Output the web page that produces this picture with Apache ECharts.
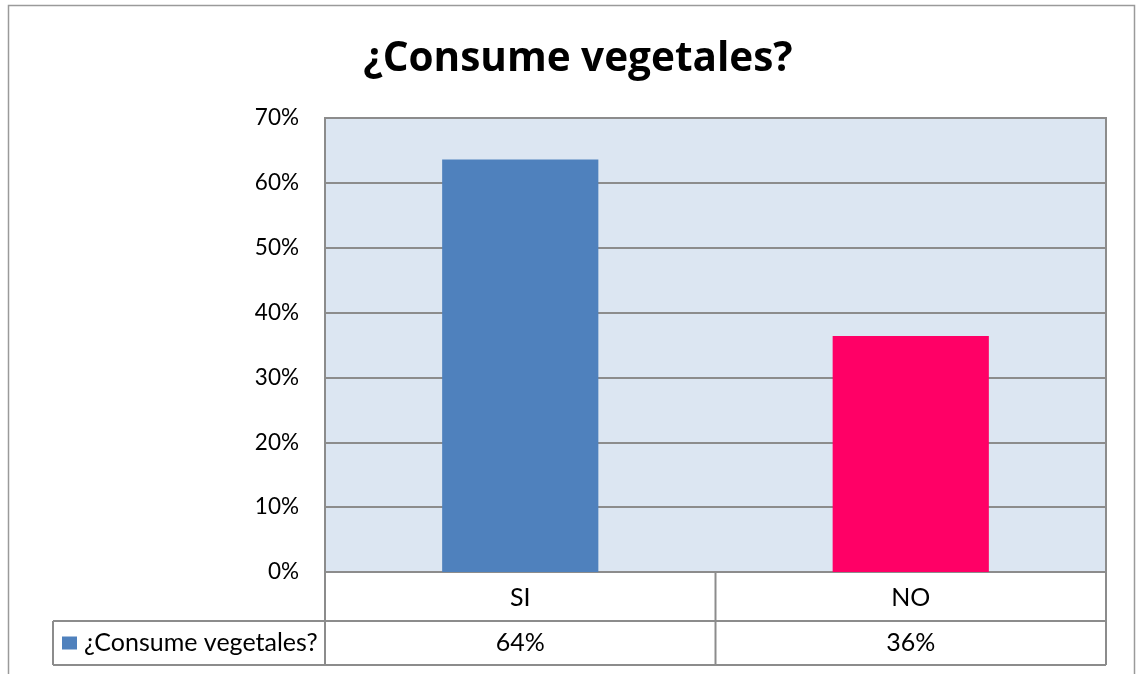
<!DOCTYPE html>
<html>
<head>
<meta charset="utf-8">
<script src="https://cdn.jsdelivr.net/npm/echarts@6/dist/echarts.min.js"></script>
<style>
  html, body { margin: 0; padding: 0; background: #fff; }
  #chart { width: 1136px; height: 674px; }
</style>
</head>
<body>
<div id="chart"></div>
<script>
// Survey answers and their shares
const categories = ['SI', 'NO'];
const shares = [0.636, 0.364];
const seriesName = '¿Consume vegetales?';
const barColors = ['#4f81bd', '#ff0066'];
const yTicks = [0, 0.1, 0.2, 0.3, 0.4, 0.5, 0.6, 0.7];

const FONT = 'Lato, "Open Sans", sans-serif';
const LINE = '#8c8c8c';

// plot area box
const G = { left: 325, top: 118, width: 781, height: 454 };
const ROW1 = 49, ROW2 = 44;     // data table row heights
const LEGEND_LEFT = 53;

const chart = echarts.init(document.getElementById('chart'));

const pct = v => Math.round(v * 100) + '%';

chart.setOption({
  animation: false,
  title: {
    text: seriesName,
    left: 573, top: 34, textAlign: 'center',
    textStyle: { fontFamily: '"Open Sans", Lato, sans-serif', fontSize: 40.5, fontWeight: 'bold', color: '#000' }
  },
  grid: { left: G.left, top: G.top, width: G.width, height: G.height,
          show: true, backgroundColor: '#dce6f2', borderColor: LINE, borderWidth: 2 },
  xAxis: {
    type: 'category', data: categories,
    axisLine: { show: true, lineStyle: { color: LINE, width: 2 } },
    axisTick: { show: false }, axisLabel: { show: false }
  },
  yAxis: {
    type: 'value', min: yTicks[0], max: yTicks[yTicks.length - 1], interval: 0.1,
    axisLine: { show: true, lineStyle: { color: LINE, width: 2 } },
    axisTick: { show: false },
    axisLabel: { formatter: pct, fontFamily: FONT, fontSize: 22.5, color: '#000', margin: 26 },
    splitLine: { lineStyle: { color: LINE, width: 2 } }
  },
  series: [{
    type: 'bar', name: seriesName,
    data: shares.map((v, i) => ({ value: v, itemStyle: { color: barColors[i] } })),
    barWidth: '40%'
  }]
});

// Data table under the plot: category row, then legend key + values row
const y0 = G.top + G.height;
const y1 = y0 + ROW1;
const y2 = y1 + ROW2;
const xR = G.left + G.width;
const colW = G.width / categories.length;
const TFONT = '25px ' + FONT;
const els = [];
const line = (x1, ya, x2, yb) => ({ type: 'line', shape: { x1, y1: ya, x2, y2: yb },
  style: { stroke: LINE, lineWidth: 2 }, z: 10 });

els.push({ type: 'rect', shape: { x: 8.5, y: 5.5, width: 1126, height: 720 },
  style: { fill: null, stroke: '#9a9a9a', lineWidth: 1.5 }, z: 0 });

els.push(line(G.left, y0, G.left, y2));
els.push(line(xR, y0, xR, y2));
els.push(line(G.left, y1, xR, y1));
els.push(line(LEGEND_LEFT, y1, G.left, y1));
els.push(line(LEGEND_LEFT, y2, xR, y2));
els.push(line(LEGEND_LEFT, y1, LEGEND_LEFT, y2));
for (let i = 1; i < categories.length; i++) {
  els.push(line(G.left + colW * i, y0, G.left + colW * i, y2));
}
categories.forEach((c, i) => {
  const cx = chart.convertToPixel({ xAxisIndex: 0 }, c);
  els.push({ type: 'text', x: cx, y: (y0 + y1) / 2 + 1, z: 11,
    style: { text: c, font: TFONT, fill: '#000', align: 'center', verticalAlign: 'middle' } });
  els.push({ type: 'text', x: cx, y: (y1 + y2) / 2, z: 11,
    style: { text: pct(shares[i]), font: TFONT, fill: '#000', align: 'center', verticalAlign: 'middle' } });
});
els.push({ type: 'rect', shape: { x: 62, y: (y1 + y2) / 2 - 6.5, width: 15, height: 13 },
  style: { fill: barColors[0] }, z: 11 });
els.push({ type: 'text', x: 84, y: (y1 + y2) / 2, z: 11,
  style: { text: seriesName, font: TFONT, fill: '#000', align: 'left', verticalAlign: 'middle' } });

chart.setOption({ graphic: { elements: els } });
</script>
</body>
</html>
